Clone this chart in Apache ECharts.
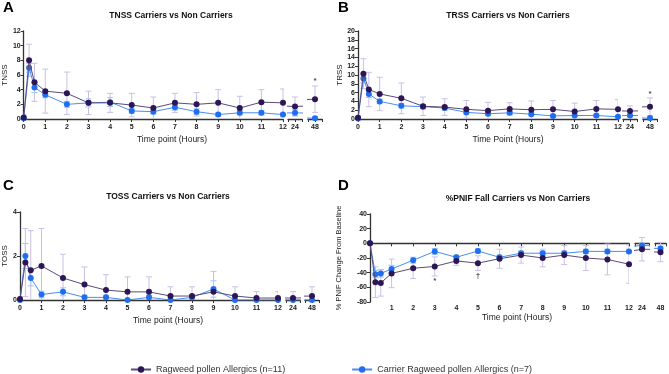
<!DOCTYPE html>
<html>
<head>
<meta charset="utf-8">
<script src="https://cdn.jsdelivr.net/npm/echarts@6/dist/echarts.min.js"></script>
<style>
  html, body { margin: 0; padding: 0; background: #fff; }
  #chart { width: 669px; height: 374px; }
</style>
</head>
<body>
<div id="chart"></div>
<script>
// time points (hours)
var hours = [0, 0.25, 0.5, 1, 2, 3, 4, 5, 6, 7, 8, 9, 10, 11, 12, 24, 48]

// A - TNSS
var tnssRagweed = [0.2, 8.0, 5.0, 3.8, 3.5, 2.2, 2.2, 1.9, 1.5, 2.2, 2.0, 2.2, 1.5, 2.3, 2.2, 1.7, 2.7]
var tnssRagweedSd = [0.4, 2.2, 2.6, 3.0, 2.9, 1.6, 1.3, 1.6, 1.5, 1.3, 1.6, 1.8, 1.6, 1.7, 1.9, 1.3, 1.8]
var tnssCarrier = [0.1, 7.0, 4.3, 3.3, 2.0, 2.2, 2.3, 1.1, 1.0, 1.6, 1.0, 0.6, 0.85, 0.85, 0.6, 0.85, 0.1]
var tnssCarrierSd = [0.2, 0.6, 0.7, 0.4, 0.4, 0.55, 0.6, 0.3, 0.3, 0.4, 0.4, 0.2, 0.3, 0.3, 0.2, 0.4, 0.2]
var tnssMarks = [[48, 5.2, '*']]

// B - TRSS
var trssRagweed = [0.3, 10.3, 6.7, 5.7, 4.7, 2.9, 2.7, 2.2, 1.9, 2.3, 2.1, 2.2, 1.7, 2.3, 2.2, 1.8, 2.8]
var trssRagweedSd = [0.5, 3.4, 3.9, 3.8, 3.5, 2.1, 1.9, 2.0, 1.9, 1.4, 2.0, 2.0, 1.9, 1.9, 2.2, 1.2, 2.0]
var trssCarrier = [0.1, 9.2, 5.7, 4.0, 3.0, 2.8, 2.5, 1.5, 1.2, 1.4, 1.1, 0.7, 0.8, 0.8, 0.5, 0.8, 0.2]
var trssCarrierSd = [0.2, 1.0, 0.8, 0.5, 0.5, 0.5, 0.5, 0.4, 0.4, 0.4, 0.4, 0.3, 0.3, 0.3, 0.3, 0.3, 0.2]
var trssMarks = [[48, 5.7, '*']]

// C - TOSS
var tossRagweed = [0.05, 1.7, 1.35, 1.55, 1.0, 0.7, 0.45, 0.37, 0.37, 0.18, 0.18, 0.37, 0.18, 0.09, 0.09, 0.09, 0.18]
var tossRagweedSd = [0.1, 1.55, 1.8, 1.7, 1.08, 0.8, 0.7, 0.68, 0.68, 0.42, 0.42, 0.93, 0.42, 0.29, 0.29, 0.29, 0.42]
var tossCarrier = [0, 2.0, 1.0, 0.25, 0.37, 0.12, 0.12, 0, 0.12, 0, 0.12, 0.5, 0, 0, 0, 0, 0]
var tossCarrierSd = [0, 0.57, 0.36, 0.15, 0.18, 0.1, 0.1, 0, 0.1, 0, 0.1, 0.37, 0, 0, 0, 0, 0]
var tossMarks = []

// D - %PNIF
var pnifRagweed = [0, -53, -54, -41, -34, -31.5, -24, -27, -21, -16, -20, -16, -20, -22, -28.5, -8, -12]
var pnifRagweedSd = [0, 21, 18, 19.5, 14, 13, 6, 10, 13, 11, 12, 13, 17, 21, 26, 16, 13]
var pnifCarrier = [0, -42, -41, -35, -23, -11, -19, -10.5, -19, -13.5, -13.5, -13.5, -11, -11, -11, -3, -7]
var pnifCarrierSd = [0, 5, 5, 5, 4, 4, 3, 3, 3, 3, 3, 3, 3, 3, 3, 3, 3]
var pnifMarks = [[3, -51, '*'], [5, -44, '†']]

var NAME_RAGWEED = 'Ragweed pollen Allergics (n=11)'
var NAME_CARRIER = 'Carrier Ragweed pollen Allergics (n=7)'
var FONT = 'Liberation Sans, Arial, sans-serif'
var GRID_H = 88
var SEG_W = 14

var panels = [
  {
    letter: 'A', title: 'TNSS Carriers vs Non Carriers', yName: 'TNSS', xName: 'Time point (Hours)',
    ragweed: tnssRagweed, ragweedSd: tnssRagweedSd, carrier: tnssCarrier, carrierSd: tnssCarrierSd, marks: tnssMarks,
    yMin: 0, yMax: 12, yStep: 2, zeroLine: false,
    box: { left: 22, top: 31, width: 261, seg24: 288, seg48: 308 },
    letterPos: [3, 8], titlePos: [171, 16], xNamePos: [172, 140], yNameGap: 10
  },
  {
    letter: 'B', title: 'TRSS Carriers vs Non Carriers', yName: 'TRSS', xName: 'Time Point (Hours)',
    ragweed: trssRagweed, ragweedSd: trssRagweedSd, carrier: trssCarrier, carrierSd: trssCarrierSd, marks: trssMarks,
    yMin: 0, yMax: 20, yStep: 2, zeroLine: false,
    box: { left: 358, top: 31, width: 260, seg24: 623, seg48: 643 },
    letterPos: [338, 8], titlePos: [508, 16], xNamePos: [508, 140], yNameGap: 13
  },
  {
    letter: 'C', title: 'TOSS Carriers vs Non Carriers', yName: 'TOSS', xName: 'Time point (Hours)',
    ragweed: tossRagweed, ragweedSd: tossRagweedSd, carrier: tossCarrier, carrierSd: tossCarrierSd, marks: tossMarks,
    yMin: 0, yMax: 4, yStep: 2, zeroLine: false,
    box: { left: 19, top: 212, width: 259, seg24: 286, seg48: 305 },
    letterPos: [3, 186], titlePos: [168, 197], xNamePos: [168, 321], yNameGap: 11
  },
  {
    letter: 'D', title: '%PNIF Fall Carriers vs Non Carriers', yName: '% PNIF Change From Baseline', xName: 'Time point (Hours)',
    ragweed: pnifRagweed, ragweedSd: pnifRagweedSd, carrier: pnifCarrier, carrierSd: pnifCarrierSd, marks: pnifMarks,
    yMin: -80, yMax: 40, yStep: 20, zeroLine: true,
    box: { left: 370, top: 214, width: 259, seg24: 635, seg48: 655 },
    letterPos: [338, 186], titlePos: [518, 199], xNamePos: [517, 318], yNameGap: 27
  }
]

// 误差棒
function renderErrorBar(params, api) {
  var x = api.value(0)
  var y = api.value(1)
  var sd = api.value(2)
  var top = api.coord([x, y + sd])
  var bottom = api.coord([x, y - sd])
  var half = 3
  var style = { stroke: api.visual('color'), lineWidth: 1, fill: null }
  return {
    type: 'group',
    children: [
      { type: 'line', shape: { x1: top[0], y1: top[1], x2: bottom[0], y2: bottom[1] }, style: style },
      { type: 'line', shape: { x1: top[0] - half, y1: top[1], x2: top[0] + half, y2: top[1] }, style: style },
      { type: 'line', shape: { x1: bottom[0] - half, y1: bottom[1], x2: bottom[0] + half, y2: bottom[1] }, style: style }
    ]
  }
}

function pointsIn(seg, withNeighbours) {
  var idx = []
  hours.forEach(function (h, i) {
    if (h >= seg.min && h <= seg.max) idx.push(i)
  })
  if (withNeighbours && idx.length) {
    if (idx[0] > 0) idx.unshift(idx[0] - 1)
    if (idx[idx.length - 1] < hours.length - 1) idx.push(idx[idx.length - 1] + 1)
  }
  return idx
}

var grids = [], xAxes = [], yAxes = [], series = [], titles = []
var tickLabel = { fontSize: 7, fontWeight: 'bold', color: '#1a1a1a', fontFamily: FONT }
var lineColor = '#333'
var axisLine = { show: true, lineStyle: { color: lineColor, width: 1.3 } }

panels.forEach(function (p) {
  titles.push({ text: p.letter, left: p.letterPos[0], top: p.letterPos[1], padding: 0, textAlign: 'left', textVerticalAlign: 'middle',
    textStyle: { fontSize: 15, fontWeight: 'bold', color: '#000', fontFamily: FONT } })
  titles.push({ text: p.title, left: p.titlePos[0], top: p.titlePos[1], padding: 0, textAlign: 'center', textVerticalAlign: 'middle',
    textStyle: { fontSize: 8.5, fontWeight: 'bold', color: '#111', fontFamily: FONT } })
  titles.push({ text: p.xName, left: p.xNamePos[0], top: p.xNamePos[1], padding: 0, textAlign: 'center', textVerticalAlign: 'middle',
    textStyle: { fontSize: 8.5, fontWeight: 'normal', color: '#222', fontFamily: FONT } })

  var segs = [
    { left: p.box.left, width: p.box.width, min: 0, max: 12, main: true },
    { left: p.box.seg24, width: SEG_W, min: 23, max: 25, center: 24 },
    { left: p.box.seg48, width: SEG_W, min: 47, max: 49, center: 48 }
  ]

  segs.forEach(function (s) {
    var gi = grids.length
    grids.push({ left: s.left, top: p.box.top, width: s.width, height: GRID_H })

    var yi = yAxes.length
    yAxes.push({
      gridIndex: gi, type: 'value', min: p.yMin, max: p.yMax, interval: p.yStep, show: !!s.main,
      name: s.main ? p.yName : '', nameLocation: 'middle', nameGap: p.yNameGap,
      nameTextStyle: { fontSize: p.zeroLine ? 7.5 : 8, color: '#222', fontFamily: FONT },
      axisLine: axisLine, axisTick: { show: true, length: 3, lineStyle: { color: lineColor } },
      axisLabel: Object.assign({ margin: 3 }, tickLabel), splitLine: { show: false }
    })

    var labelFn = function (v) {
      if (!s.main) return v === s.center ? String(v) : ''
      if (p.zeroLine && v === 0) return ''
      return String(v)
    }
    var xi = xAxes.length
    if (p.zeroLine) {
      // line + ticks on y = 0
      xAxes.push({
        gridIndex: gi, type: 'value', min: s.min, max: s.max, interval: 1, position: 'bottom',
        axisLine: { show: true, onZero: true, lineStyle: { color: lineColor, width: 1.3 } },
        axisTick: { show: true, length: 3, lineStyle: { color: lineColor } },
        axisLabel: { show: false }, splitLine: { show: false }
      })
      // labels along the bottom
      xAxes.push({
        gridIndex: gi, type: 'value', min: s.min, max: s.max, interval: 1, position: 'bottom',
        axisLine: { show: false, onZero: false }, axisTick: { show: false },
        axisLabel: Object.assign({ margin: 3, formatter: labelFn }, tickLabel), splitLine: { show: false }
      })
    } else {
      xAxes.push({
        gridIndex: gi, type: 'value', min: s.min, max: s.max, interval: 1, position: 'bottom',
        axisLine: { show: true, onZero: false, lineStyle: { color: lineColor, width: 1.3 } },
        axisTick: { show: true, length: 3, lineStyle: { color: lineColor } },
        axisLabel: Object.assign({ margin: 5, formatter: labelFn }, tickLabel), splitLine: { show: false }
      })
    }

    var groups = [
      { name: NAME_CARRIER, mean: p.carrier, sd: p.carrierSd, marker: '#1f6ef2', line: '#4a8cf5', err: '#93c7f2', z: 4 },
      { name: NAME_RAGWEED, mean: p.ragweed, sd: p.ragweedSd, marker: '#2c1654', line: '#5a4b78', err: '#cbbfe6', z: 5 }
    ]
    groups.forEach(function (g) {
      series.push({
        name: g.name, type: 'line', xAxisIndex: xi, yAxisIndex: yi, z: g.z, clip: true,
        symbol: 'circle', symbolSize: 6, showSymbol: true,
        itemStyle: { color: g.marker },
        lineStyle: { color: g.line, width: 1 },
        data: pointsIn(s, true).map(function (i) {
          var item = { value: [hours[i], g.mean[i]] }
          if (hours[i] < s.min || hours[i] > s.max) item.symbol = 'none'
          return item
        })
      })
      series.push({
        type: 'custom', xAxisIndex: xi, yAxisIndex: yi, z: 2, clip: true,
        itemStyle: { color: g.err },
        renderItem: renderErrorBar,
        encode: { x: 0, y: 1 },
        data: pointsIn(s, false).map(function (i) { return [hours[i], g.mean[i], g.sd[i]] })
      })
    })

    var marks = p.marks.filter(function (m) { return m[0] >= s.min && m[0] <= s.max })
    if (marks.length) {
      series.push({
        type: 'scatter', xAxisIndex: xi, yAxisIndex: yi, z: 6, symbolSize: 0, silent: true,
        data: marks.map(function (m) {
          return { value: [m[0], m[1]], label: { show: true, position: 'inside', formatter: m[2],
            fontSize: 8, fontWeight: 'bold', color: '#222', fontFamily: FONT } }
        })
      })
    }
  })
})

var myChart = echarts.init(document.getElementById('chart'))
myChart.setOption({
  animation: false,
  backgroundColor: '#fff',
  title: titles,
  legend: {
    data: [NAME_RAGWEED, NAME_CARRIER],
    left: 125, top: 360, itemWidth: 20, itemHeight: 8, itemGap: 66,
    textStyle: { fontSize: 9, color: '#333', fontFamily: FONT }
  },
  grid: grids,
  xAxis: xAxes,
  yAxis: yAxes,
  series: series
})
</script>
</body>
</html>
